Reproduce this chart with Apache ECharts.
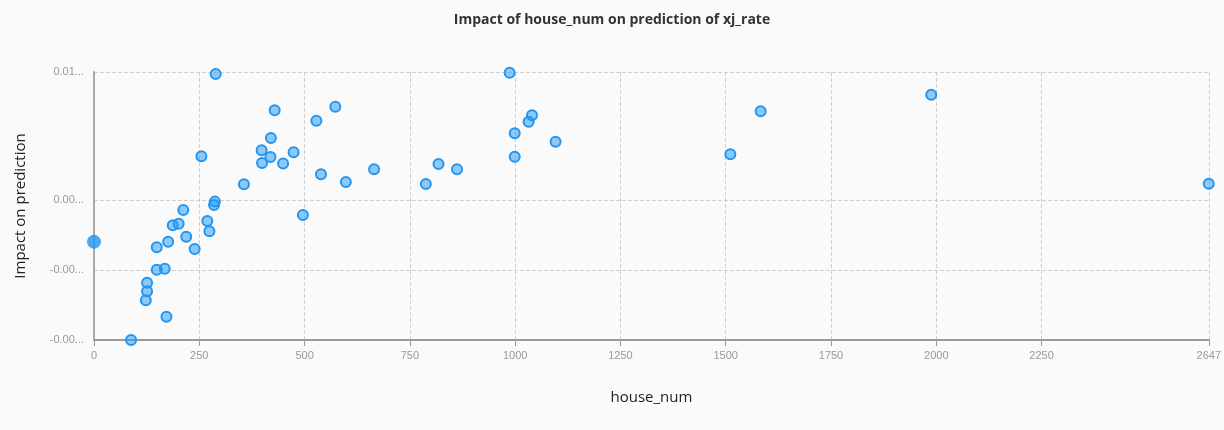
<!DOCTYPE html>
<html>
<head>
<meta charset="utf-8">
<script src="https://cdn.jsdelivr.net/npm/echarts@6/dist/echarts.min.js"></script>
<style>
html,body{margin:0;padding:0;background:#fafafa;}
#chart{width:1224px;height:430px;}
</style>
</head>
<body>
<div id="chart"></div>
<script>
const houseNum = [289, 429, 573, 528, 420, 255, 398, 419, 474, 399, 449, 539, 598, 665, 788, 818, 862, 356, 287, 285, 212, 269, 201, 187, 274, 219, 176, 149, 239, 496, 168, 149, 126, 126, 123, 172, 88, 987, 1040, 1032, 999, 1096, 999, 1583, 1511, 1988, 2647];
const impact = [0.01019, 0.00811, 0.00832, 0.00752, 0.00653, 0.00549, 0.00583, 0.00545, 0.00572, 0.00510, 0.00507, 0.00446, 0.00402, 0.00475, 0.00391, 0.00505, 0.00475, 0.00389, 0.00290, 0.00271, 0.00242, 0.00179, 0.00164, 0.00155, 0.00121, 0.00090, 0.00061, 0.00029, 0.00020, 0.00214, -0.00093, -0.00099, -0.00173, -0.00222, -0.00273, -0.00367, -0.00500, 0.01026, 0.00783, 0.00746, 0.00680, 0.00632, 0.00546, 0.00806, 0.00560, 0.00900, 0.00392];
const highlightPoint = [0, 0.00061];
const xTickValues = [0, 250, 500, 750, 1000, 1250, 1500, 1750, 2000, 2250, 2647];
const yTickValues = [-0.005, -0.001, 0.003, 0.0103];
const yMin = -0.005, yMax = 0.0103;

const pts = houseNum.map((x, i) => [x, impact[i]]);

const chart = echarts.init(document.getElementById('chart'), null, {renderer: 'canvas'});
chart.setOption({
  backgroundColor: '#fafafa',
  animation: false,
  title: {
    text: 'Impact of house_num on prediction of xj_rate',
    left: 'center',
    top: 8,
    textStyle: {fontSize: 14, fontWeight: 'bold', color: '#333', fontFamily: 'Open Sans, sans-serif'}
  },
  grid: {left: 94, right: 14, top: 72, bottom: 90},
  xAxis: {
    type: 'value',
    min: 0, max: 2647,
    name: 'house_num',
    nameLocation: 'middle',
    nameGap: 50,
    nameTextStyle: {fontSize: 15, color: '#222', fontFamily: 'Open Sans, sans-serif'},
    axisLine: {show: true, onZero: false, lineStyle: {color: '#999', width: 2}},
    axisTick: {show: true, length: 6, customValues: xTickValues, lineStyle: {color: '#999'}},
    axisLabel: {customValues: xTickValues, color: '#999', fontSize: 11, margin: 10, formatter: v => String(v)},
    splitLine: {show: true, lineStyle: {color: '#d0d0d0', type: 'dashed'}}
  },
  yAxis: {
    type: 'value',
    min: yMin, max: yMax,
    name: 'Impact on prediction',
    nameLocation: 'middle',
    nameGap: 66,
    nameTextStyle: {fontSize: 15, color: '#222', fontFamily: 'Open Sans, sans-serif'},
    axisLine: {show: true, onZero: false, lineStyle: {color: '#aaa', width: 2}},
    axisTick: {show: false, customValues: yTickValues},
    axisLabel: {
      customValues: yTickValues,
      color: '#999', fontSize: 11, margin: 10,
      width: 38, overflow: 'truncate', ellipsis: '...',
      formatter: v => v.toFixed(6)
    },
    splitLine: {show: true, lineStyle: {color: '#d0d0d0', type: 'dashed'}}
  },
  series: [
    {
      type: 'scatter',
      data: pts,
      symbolSize: 10,
      clip: false,
      itemStyle: {color: 'rgba(33,150,243,0.5)', borderColor: '#2196f3', borderWidth: 2, opacity: 1}
    },
    {
      type: 'scatter',
      data: [highlightPoint],
      symbolSize: 13,
      clip: false,
      itemStyle: {color: '#2196f3', borderColor: '#2196f3', borderWidth: 1}
    }
  ]
});
</script>
</body>
</html>
